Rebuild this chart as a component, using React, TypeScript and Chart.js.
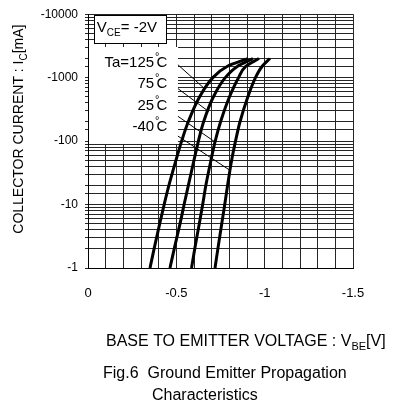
import React, { useEffect, useRef } from "react";
import { Chart, registerables } from "chart.js";

Chart.register(...registerables);

const FONT = "'Liberation Sans', Arial, Helvetica, sans-serif";
const GRID = "#262626";

// Collector current magnitude (mA); axis shows it with a minus sign (PNP device)
const CURRENT_MA = [1, 2, 5, 10, 20, 50, 100, 200, 500, 1000, 1500, 2000];
// Base-emitter voltage (V) for each ambient temperature
const VBE_125C = [-0.351, -0.374, -0.406, -0.431, -0.458, -0.498, -0.53, -0.567, -0.632, -0.707, -0.787, -0.905];
const VBE_75C = [-0.464, -0.488, -0.521, -0.544, -0.568, -0.6, -0.625, -0.654, -0.71, -0.777, -0.845, -0.934];
const VBE_25C = [-0.586, -0.604, -0.63, -0.649, -0.667, -0.696, -0.72, -0.75, -0.801, -0.852, -0.893, -0.968];
const VBE_M40C = [-0.719, -0.735, -0.757, -0.774, -0.79, -0.813, -0.835, -0.86, -0.905, -0.948, -0.985, -1.03];

const TEMP_LABELS = ["Ta=125", "75", "25", "-40"];
const Y_MAJOR = [1, 10, 100, 1000, 10000];
const X_MAJOR = [0, -0.5, -1, -1.5];

// annotation anchors in data coordinates (V, mA)
const LABEL_RIGHT_V = -0.374;
const LABEL_BASE_I = [1486, 680, 313, 143];
const LEADER_FROM_V = -0.509;
const LEADER_FROM_I = [1597, 673, 246, 120];
const LEADER_TO_V = [-0.659, -0.682, -0.72, -0.808];
const LEADER_TO_I = [673, 294, 96.5, 34];
const KEY_BOX_V = [0, -0.509];
const KEY_BOX_I = [3050, 89.8];
const VCE_BOX_V = [-0.034, -0.441];
const VCE_BOX_I = [9650, 3523];
const VCE_TEXT_V = -0.05;
const VCE_TEXT_I = 5233;

type Part = [string, boolean];

function drawRich(ctx: CanvasRenderingContext2D, parts: Part[], x: number, y: number, size: number, align: "left" | "center") {
  const subSize = Math.round(size * 0.68);
  let w = 0;
  const widths: number[] = [];
  for (const [t, sub] of parts) {
    ctx.font = `${sub ? subSize : size}px ${FONT}`;
    const m = ctx.measureText(t).width;
    widths.push(m);
    w += m;
  }
  let cx = align === "center" ? x - w / 2 : x;
  ctx.textAlign = "left";
  ctx.textBaseline = "alphabetic";
  parts.forEach(([t, sub], k) => {
    ctx.font = `${sub ? subSize : size}px ${FONT}`;
    ctx.fillText(t, cx, sub ? y + size * 0.28 : y);
    cx += widths[k];
  });
}

const annotPlugin = {
  id: "annot",
  beforeDatasetsDraw(chart: any) {
    const { ctx, scales } = chart;
    const x = scales.x;
    const y = scales.y;
    ctx.save();
    const l = Math.round(x.getPixelForValue(KEY_BOX_V[0])) + 1;
    const r = Math.round(x.getPixelForValue(KEY_BOX_V[1]));
    const t = Math.round(y.getPixelForValue(KEY_BOX_I[0]));
    const b = Math.round(y.getPixelForValue(KEY_BOX_I[1]));
    ctx.fillStyle = "#fff";
    ctx.fillRect(l, t, r - l, b - t);
    const vl = Math.round(x.getPixelForValue(VCE_BOX_V[0]));
    const vr = Math.round(x.getPixelForValue(VCE_BOX_V[1]));
    const vt = Math.round(y.getPixelForValue(VCE_BOX_I[0]));
    const vb = Math.round(y.getPixelForValue(VCE_BOX_I[1]));
    ctx.fillRect(vl, vt, vr - vl, vb - vt);
    ctx.strokeStyle = "#000";
    ctx.lineWidth = 1;
    ctx.strokeRect(vl + 0.5, vt + 0.5, vr - vl, vb - vt);
    ctx.restore();
  },
  afterDraw(chart: any) {
    const { ctx, scales } = chart;
    const x = scales.x;
    const y = scales.y;
    ctx.save();
    ctx.fillStyle = "#000";
    drawRich(ctx, [["V", false], ["CE", true], ["= -2V", false]], x.getPixelForValue(VCE_TEXT_V), y.getPixelForValue(VCE_TEXT_I), 15, "left");
    const rx = x.getPixelForValue(LABEL_RIGHT_V);
    TEMP_LABELS.forEach((lab, k) => {
      const by = y.getPixelForValue(LABEL_BASE_I[k]);
      ctx.textBaseline = "alphabetic";
      ctx.textAlign = "right";
      ctx.font = `15px ${FONT}`;
      ctx.fillText(lab, rx, by);
      ctx.textAlign = "left";
      ctx.font = `11px ${FONT}`;
      ctx.fillText("°", rx + 1, by - 7);
      ctx.font = `15px ${FONT}`;
      ctx.fillText("C", rx + 2.5, by);
    });
    const ca = chart.chartArea;
    drawRich(ctx, [["BASE TO EMITTER VOLTAGE : V", false], ["BE", true], ["[V]", false]], 106, ca.bottom + 78, 16, "left");
    ctx.font = `16px ${FONT}`;
    ctx.textAlign = "left";
    ctx.fillText("Fig.6  Ground Emitter Propagation", 103, ca.bottom + 110);
    ctx.fillText("Characteristics", 152, ca.bottom + 132);
    ctx.save();
    ctx.translate(23, (ca.top + ca.bottom) / 2 - 12);
    ctx.rotate(-Math.PI / 2);
    drawRich(ctx, [["COLLECTOR CURRENT : I", false], ["C", true], ["[mA]", false]], 0, 0, 14, "center");
    ctx.restore();
    ctx.restore();
  },
};

export default function App() {
  const ref = useRef<HTMLCanvasElement>(null);
  useEffect(() => {
    const canvas = ref.current!;
    const mk = (vs: number[]) => CURRENT_MA.map((c, k) => ({ x: vs[k], y: c }));
    const curve = (label: string, vs: number[]) => ({
      label,
      data: mk(vs),
      borderColor: "#000",
      borderWidth: 3,
      pointRadius: 0,
      cubicInterpolationMode: "monotone",
      fill: false,
    });
    const leaders = LEADER_FROM_I.map((fi, k) => ({
      label: "leader" + k,
      data: [
        { x: LEADER_FROM_V, y: fi },
        { x: LEADER_TO_V[k], y: LEADER_TO_I[k] },
      ],
      borderColor: "#000",
      borderWidth: 1,
      pointRadius: 0,
      tension: 0,
      fill: false,
    }));
    const chart = new Chart(canvas, {
      type: "line",
      data: {
        datasets: [
          curve("125", VBE_125C),
          curve("75", VBE_75C),
          curve("25", VBE_25C),
          curve("-40", VBE_M40C),
          ...leaders,
        ] as any,
      },
      options: {
        indexAxis: "y",
        responsive: false,
        animation: false,
        devicePixelRatio: 1,
        layout: { padding: { left: 0, top: 12, right: 41, bottom: 0 } },
        plugins: {
          legend: { display: false },
          tooltip: { enabled: false },
          title: { display: false },
        },
        scales: {
          x: {
            type: "linear",
            position: "bottom",
            min: -1.5,
            max: 0,
            reverse: true,
            afterFit: (s: any) => {
              s.height = 140;
            },
            grid: { color: GRID, lineWidth: 1, drawTicks: false },
            border: { color: "#000" },
            ticks: {
              stepSize: 0.1,
              autoSkip: false,
              maxRotation: 0,
              padding: 18,
              color: "#000",
              font: { family: FONT, size: 13 },
              callback: (v: any) => {
                const n = Number(v);
                const m = X_MAJOR.find((q) => Math.abs(q - n) < 1e-6);
                return m === undefined ? "" : String(m);
              },
            },
          },
          y: {
            type: "logarithmic",
            position: "left",
            min: 1,
            max: 10000,
            afterFit: (s: any) => {
              s.width = 88;
            },
            grid: { color: GRID, lineWidth: 1, drawTicks: true, tickLength: 3 },
            border: { color: "#000" },
            ticks: {
              autoSkip: false,
              padding: 7,
              color: "#000",
              font: { family: FONT, size: 12 },
              callback: (v: any) => {
                const n = Number(v);
                const m = Y_MAJOR.find((q) => Math.abs(q - n) < 1e-6 * q);
                return m === undefined ? "" : "-" + m;
              },
            },
          },
        },
      } as any,
      plugins: [annotPlugin],
    });
    return () => chart.destroy();
  }, []);
  return (
    <div style={{ position: "absolute", left: 0, top: 0, width: 394, height: 408, background: "#fff" }}>
      <canvas ref={ref} width={394} height={408} style={{ display: "block" }} />
    </div>
  );
}
